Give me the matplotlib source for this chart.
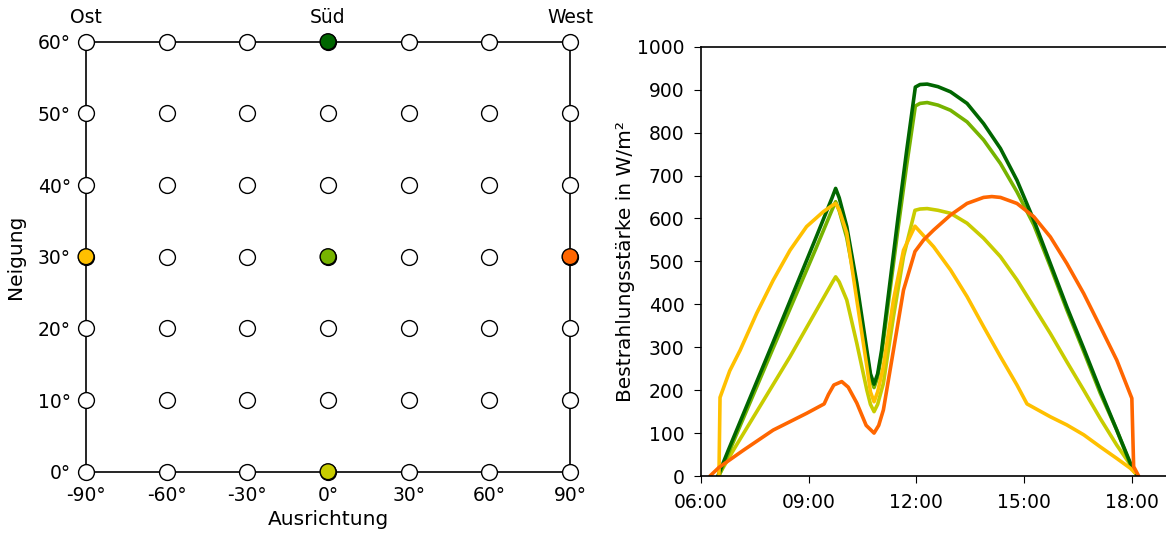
import numpy as np
import matplotlib
matplotlib.use('Agg')
import matplotlib.pyplot as plt
from matplotlib.ticker import FuncFormatter

plt.rcParams['font.family'] = ['DejaVu Sans']
plt.rcParams['font.size'] = 13.5

# Linkes Diagramm: Ausrichtung / Neigung
azimut = [-90, -60, -30, 0, 30, 60, 90]
neigung = [0, 10, 20, 30, 40, 50, 60]
richtungen = ['Ost', 'Süd', 'West']
richtung_pos = [-90, 0, 90]

# Farbige Punkte (Ausrichtung, Neigung, Farbe)
punkte_az = [0, 0, 0, -90, 90]
punkte_ng = [60, 30, 0, 30, 30]
farben = ['#006600', '#76b300', '#c8cc00', '#ffc000', '#ff6600']

# Rechtes Diagramm: Tagesgang der Bestrahlungsstärke (Stunden, W/m²)
sued60_t = [6.47, 6.76, 8.0, 9.2, 9.65, 9.75, 9.85, 10.06, 10.34, 10.62, 10.72, 10.82, 10.92, 11.03,
            11.26, 11.49, 11.73, 11.97, 12.1, 12.3, 12.6, 12.95, 13.41, 13.87, 14.34, 14.8, 15.27,
            15.73, 16.19, 16.66, 17.12, 17.58, 17.96, 18.14]
sued60_v = [0, 60, 310, 555, 648, 670, 648, 581, 449, 293, 238, 214, 238, 293,
            449, 604, 759, 906, 912, 913, 907, 895, 868, 821, 763, 689, 596,
            495, 394, 297, 200, 107, 30, 4]

sued30_t = [6.5, 6.8, 8.0, 9.2, 9.65, 9.75, 9.85, 10.06, 10.34, 10.62, 10.72, 10.82, 10.92, 11.03,
            11.26, 11.49, 11.73, 11.97, 12.1, 12.3, 12.6, 12.95, 13.41, 13.87, 14.34, 14.8, 15.27,
            15.73, 16.19, 16.66, 17.12, 17.58, 17.96, 18.12]
sued30_v = [0, 60, 296, 530, 620, 639, 618, 555, 430, 283, 230, 206, 230, 283,
            430, 578, 725, 862, 868, 870, 864, 852, 825, 783, 728, 662, 585,
            488, 387, 290, 193, 107, 26, 4]

sued0_t = [6.48, 6.9, 8.48, 9.65, 9.75, 9.85, 10.06, 10.34, 10.62, 10.72, 10.82, 10.92, 11.08,
           11.36, 11.64, 11.96, 12.1, 12.3, 12.6, 12.95, 13.41, 13.87, 14.34, 14.8, 15.27, 15.73,
           16.19, 16.66, 17.12, 17.58, 17.96, 18.08]
sued0_v = [0, 60, 278, 450, 464, 452, 410, 309, 200, 167, 150, 167, 216,
           371, 511, 619, 622, 623, 619, 612, 589, 554, 511, 457, 394, 332,
           266, 200, 134, 72, 26, 8]

ost30_t = [6.5, 6.53, 6.8, 7.09, 7.55, 8.01, 8.48, 8.94, 9.41, 9.65, 9.75, 9.85, 10.06, 10.34,
           10.62, 10.72, 10.82, 10.92, 11.08, 11.36, 11.64, 11.96, 12.48, 12.95, 13.41, 13.87,
           14.34, 14.8, 15.08, 15.73, 16.19, 16.66, 17.12, 17.58, 17.96, 18.08]
ost30_v = [0, 183, 245, 293, 379, 456, 526, 581, 616, 630, 635, 620, 566, 410,
           255, 196, 173, 196, 255, 410, 526, 582, 534, 480, 418, 348,
           278, 212, 168, 138, 119, 96, 68, 41, 18, 8]

west30_t = [6.25, 6.5, 7.18, 8.01, 8.94, 9.43, 9.55, 9.7, 9.92, 10.1, 10.34, 10.6, 10.82, 10.95,
            11.08, 11.36, 11.64, 11.96, 12.2, 12.48, 12.95, 13.41, 13.87, 14.1, 14.34, 14.8, 15.27,
            15.73, 16.19, 16.66, 17.12, 17.58, 18.0, 18.05, 18.19]
west30_v = [0, 20, 60, 107, 146, 168, 190, 212, 220, 207, 170, 118, 100, 118,
            154, 293, 433, 523, 550, 573, 608, 635, 649, 651, 649, 635, 604,
            557, 495, 425, 348, 270, 181, 22, 0]

serien = [
    (sued0_t, sued0_v, '#c8cc00'),
    (sued30_t, sued30_v, '#76b300'),
    (sued60_t, sued60_v, '#006600'),
    (ost30_t, ost30_v, '#ffc000'),
    (west30_t, west30_v, '#ff6600'),
]

fig = plt.figure(figsize=(11.66, 5.33), dpi=100)

# --- links ---
ax1 = fig.add_axes([0.0738, 0.115, 0.4151, 0.8068])
xx, yy = np.meshgrid(azimut, neigung)
ax1.scatter(xx.ravel(), yy.ravel(), s=130, facecolor='white', edgecolor='black',
            linewidth=1.0, zorder=3, clip_on=False)
ax1.scatter(punkte_az, punkte_ng, s=130, c=farben, edgecolor='black',
            linewidth=1.0, zorder=4, clip_on=False)
ax1.set_xlim(-90, 90)
ax1.set_ylim(0, 60)
ax1.set_xticks(azimut)
ax1.set_yticks(neigung)
ax1.xaxis.set_major_formatter(FuncFormatter(lambda v, p: f'{v:.0f}°'))
ax1.yaxis.set_major_formatter(FuncFormatter(lambda v, p: f'{v:.0f}°'))
ax1.tick_params(axis='x', direction='in', length=6, pad=10)
ax1.tick_params(axis='y', direction='out', length=5, pad=6)
for sp in ax1.spines.values():
    sp.set_linewidth(1.2)
    sp.set_zorder(2)
ax1.set_xlabel('Ausrichtung', fontsize=14.5, labelpad=4)
ax1.set_ylabel('Neigung', fontsize=14.5, labelpad=9)
for name, pos in zip(richtungen, richtung_pos):
    ax1.text(pos, 1.035, name, transform=ax1.get_xaxis_transform(),
             ha='center', va='bottom')

# --- rechts ---
ax2 = fig.add_axes([0.6012, 0.1069, 0.4003, 0.8054])
for t, v, c in serien:
    ax2.plot(t, v, color=c, linewidth=2.6, solid_joinstyle='round', solid_capstyle='round')
ax2.set_xlim(6, 19)
ax2.set_ylim(0, 1000)
ax2.set_yticks(np.arange(0, 1001, 100))
ax2.set_xticks([6, 9, 12, 15, 18])
ax2.xaxis.set_major_formatter(FuncFormatter(lambda v, p: f'{int(v):02d}:00'))
ax2.tick_params(direction='out', length=5, pad=7)
ax2.spines['right'].set_visible(False)
for sp in ax2.spines.values():
    sp.set_linewidth(1.2)
ax2.set_ylabel('Bestrahlungsstärke in W/m²', fontsize=14.5, labelpad=1)

fig.savefig('out.png', dpi=100)
